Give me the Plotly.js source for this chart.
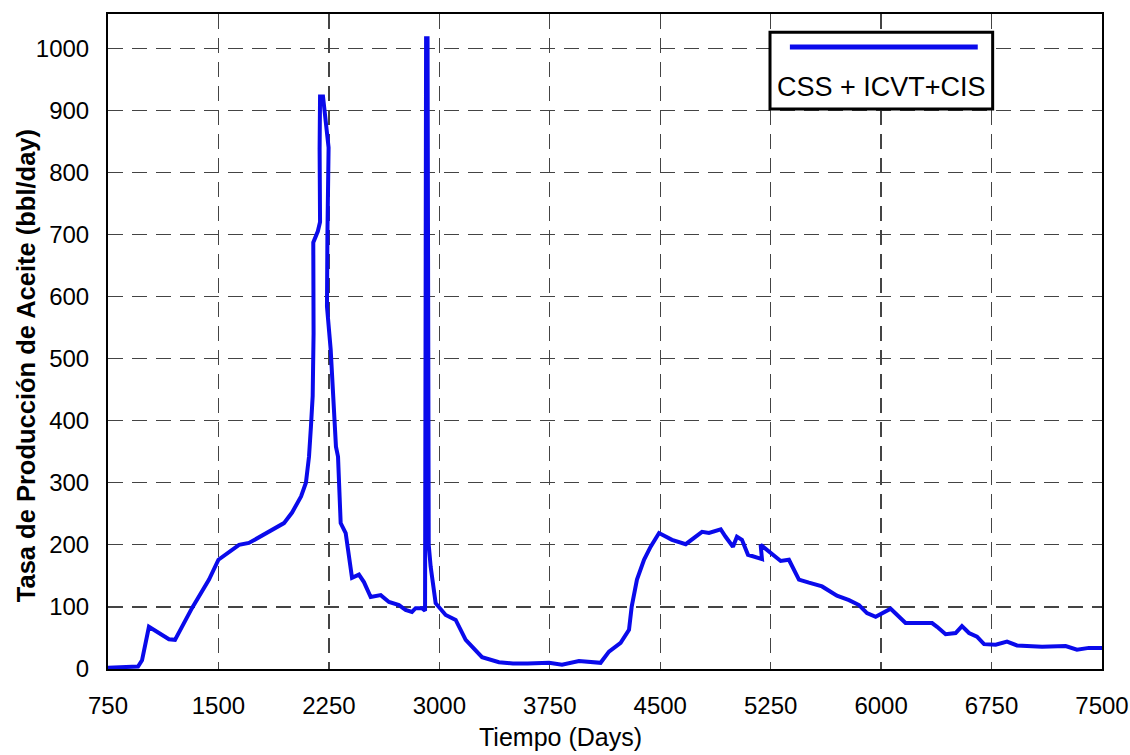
<!DOCTYPE html>
<html>
<head>
<meta charset="utf-8">
<script src="https://cdn.plot.ly/plotly-3.0.1.min.js"></script>
<style>html,body{margin:0;padding:0;background:#fff;}#chart{width:1130px;height:755px;}</style>
</head>
<body>
<div id="chart"></div>
<script>
// Days
const tiempo = [750, 954, 981, 1028, 1164, 1205, 1320, 1436, 1500, 1640, 1707, 1800, 1945, 2000, 2061, 2094, 2115, 2128, 2140, 2146, 2143, 2144, 2175, 2190, 2187, 2190, 2210, 2248, 2240, 2237, 2262, 2280, 2290, 2298, 2312, 2330, 2364, 2407, 2454, 2488, 2534, 2602, 2658, 2726, 2771, 2814, 2839, 2882, 2903, 2910, 2920, 2928, 2941, 2975, 3043, 3111, 3179, 3290, 3405, 3500, 3600, 3745, 3833, 3948, 4095, 4152, 4231, 4288, 4306, 4342, 4390, 4435, 4492, 4580, 4673, 4784, 4831, 4911, 4944, 4994, 5021, 5055, 5096, 5191, 5182, 5249, 5318, 5374, 5442, 5510, 5599, 5700, 5782, 5850, 5904, 5963, 6065, 6166, 6346, 6380, 6438, 6506, 6549, 6597, 6651, 6699, 6778, 6855, 6923, 7093, 7253, 7330, 7411, 7500];
// Oil rate, bbl/day
const tasa = [2, 4, 14, 68, 48, 47, 98, 144, 176, 200, 203, 215, 235, 252, 278, 300, 342, 390, 440, 540, 610, 687, 705, 720, 837, 922, 922, 840, 700, 584, 515, 434, 400, 358, 342, 235, 219, 147, 152, 140, 116, 119, 108, 103, 95, 92, 98, 98, 94, 1016, 1016, 200, 165, 106, 87, 79, 47, 19, 11, 9, 9, 10, 7, 13, 10, 28, 42, 63, 100, 144, 176, 197, 219, 208, 201, 221, 219, 225, 213, 197, 213, 208, 184, 177, 200, 187, 174, 176, 144, 139, 133, 118, 111, 103, 90, 84, 97, 74, 74, 68, 56, 58, 69, 58, 52, 40, 39, 44, 38, 36, 37, 31, 34, 34];
const seriesName = 'CSS + ICVT+CIS';
const xTicks = [750, 1500, 2250, 3000, 3750, 4500, 5250, 6000, 6750, 7500];
const yTicks = [0, 100, 200, 300, 400, 500, 600, 700, 800, 900, 1000];
const xTitle = 'Tiempo (Days)';
const yTitle = 'Tasa de Producción de Aceite (bbl/day)';

const font = 'Liberation Sans, Arial, Helvetica, sans-serif';
const lineColor = 'rgb(10,10,235)';

const trace = {
  x: tiempo, y: tasa, type: 'scatter', mode: 'lines', name: seriesName,
  line: {color: lineColor, width: 4}, showlegend: false
};

const gridStyle = {gridcolor: '#444', gridwidth: 1.3, griddash: '15px,9px'};

const layout = {
  width: 1130, height: 755,
  margin: {l: 108, r: 28, t: 14, b: 86},
  paper_bgcolor: '#fff', plot_bgcolor: '#fff',
  font: {family: font, color: '#000', size: 24},
  xaxis: Object.assign({
    range: [750, 7500], tickvals: xTicks, ticktext: xTicks.map(String),
    showline: true, mirror: true, linecolor: '#000', linewidth: 2,
    zeroline: false, ticks: '', ticklabelstandoff: 14,
    tickfont: {family: font, size: 24, color: '#000'}
  }, gridStyle),
  yaxis: Object.assign({
    range: [0, 1055], tickvals: yTicks, ticktext: yTicks.map(String),
    showline: true, mirror: true, linecolor: '#000', linewidth: 2,
    zeroline: false, ticks: '', ticklabelstandoff: 12,
    tickfont: {family: font, size: 24, color: '#000'}
  }, gridStyle),
  shapes: [
    {type: 'rect', xref: 'paper', yref: 'paper', x0: 0.666, x1: 0.890, y0: 0.855, y1: 0.972,
     line: {color: '#000', width: 3}, fillcolor: '#fff', layer: 'above'},
    {type: 'line', xref: 'paper', yref: 'paper', x0: 0.686, x1: 0.875, y0: 0.9495, y1: 0.9495,
     line: {color: lineColor, width: 5}, layer: 'above'}
  ],
  annotations: [
    {text: seriesName, xref: 'paper', yref: 'paper', x: 0.778, y: 0.888, xanchor: 'center', yanchor: 'middle',
     showarrow: false, font: {family: font, size: 27, color: '#000'}},
    {text: xTitle, xref: 'paper', yref: 'paper', x: 0.455, y: -0.104, xanchor: 'center', yanchor: 'middle',
     showarrow: false, font: {family: font, size: 25, color: '#000'}},
    {text: '<b>' + yTitle + '</b>', xref: 'paper', yref: 'paper', x: -0.083, y: 0.463, xanchor: 'center', yanchor: 'middle',
     textangle: -90, showarrow: false, font: {family: font, size: 25.5, color: '#000'}}
  ]
};

Plotly.newPlot('chart', [trace], layout, {staticPlot: true, displayModeBar: false});
</script>
</body>
</html>
